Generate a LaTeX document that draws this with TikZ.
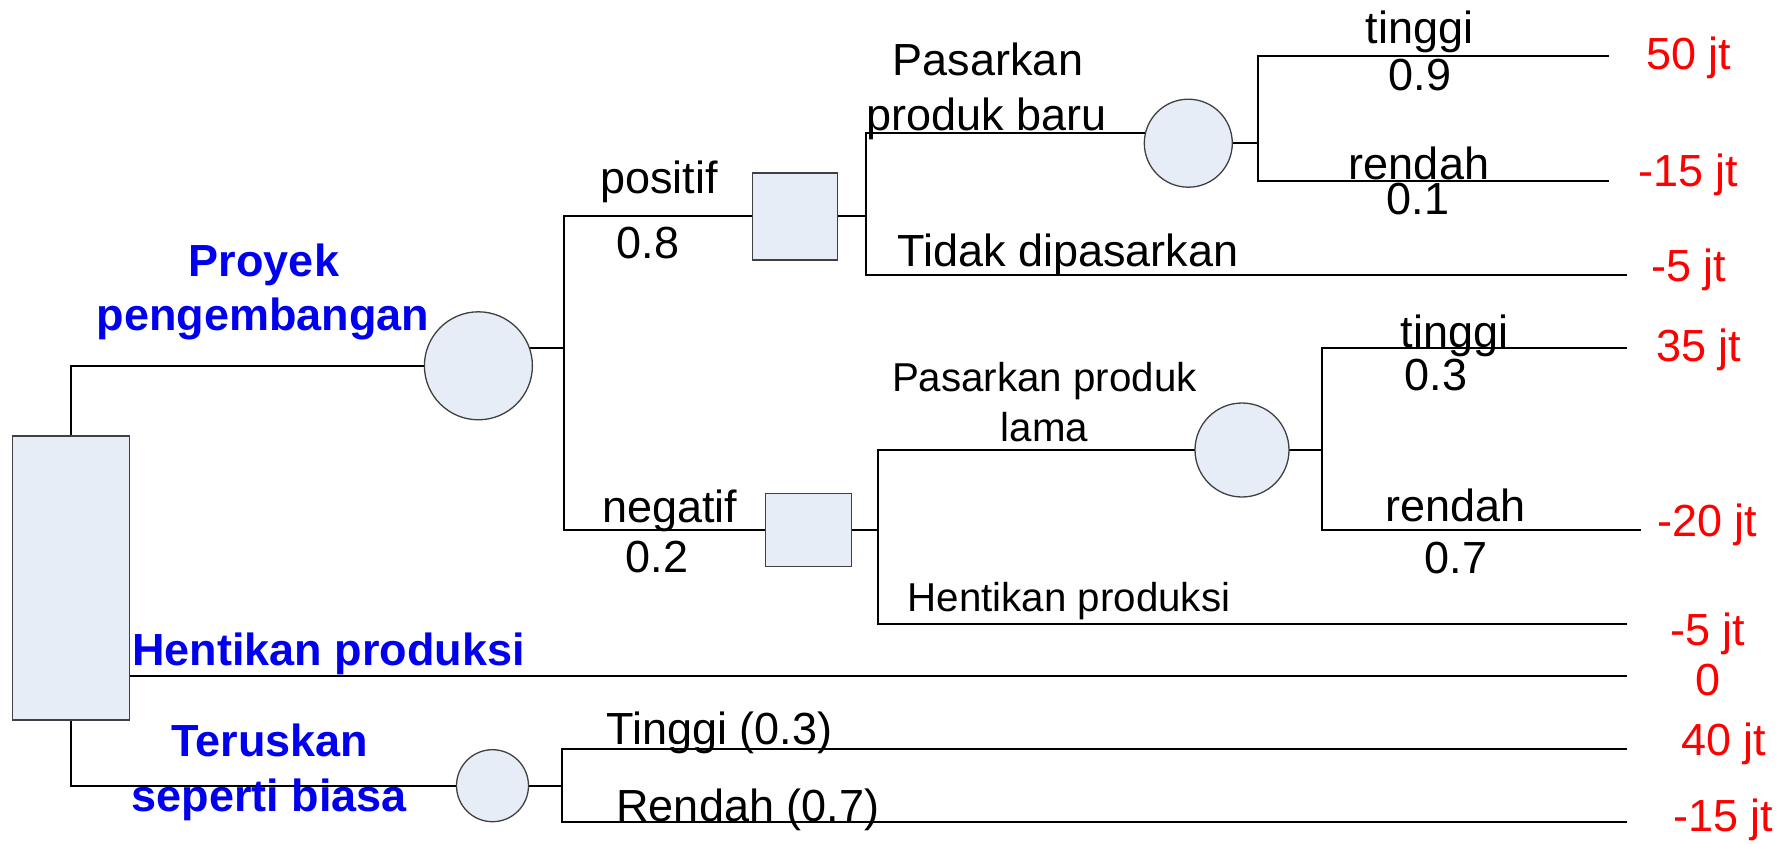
\documentclass[tikz,border=0pt]{standalone}
\usepackage{fontspec}
\setmainfont{Liberation Sans}
\usetikzlibrary{backgrounds}
\definecolor{nodefill}{RGB}{230,237,247}
\definecolor{nodeline}{RGB}{64,64,64}
\definecolor{payoff}{RGB}{255,0,0}
\definecolor{choice}{RGB}{0,0,238}
\begin{document}
\begin{tikzpicture}[x=1pt,y=-1pt,
  every node/.style={inner sep=0pt, outer sep=0pt},
  decision/.style={rectangle, draw=nodeline, fill=nodefill, line width=1.3pt},
  chance/.style={circle, draw=nodeline, fill=nodefill, line width=1.3pt},
  branch/.style={line width=2pt, black},
  lbl/.style={anchor=base, font=\fontsize{45}{54}\selectfont},
  smalllbl/.style={anchor=base, font=\fontsize{40.3}{48}\selectfont},
  act/.style={anchor=base, text=choice, font=\fontsize{45}{54}\selectfont\bfseries},
  val/.style={anchor=base west, text=payoff, font=\fontsize{45}{54}\selectfont}]

\useasboundingbox (0,0) rectangle (1790,843);

% decision and chance nodes
\node[decision, minimum width=117pt, minimum height=284pt] (root) at (70.75,578) {};
\node[chance, minimum size=108pt] (c1) at (478.4,365.8) {};
\node[decision, minimum width=85pt, minimum height=87pt] (d1) at (794.8,216.4) {};
\node[decision, minimum width=86.4pt, minimum height=73pt] (d2) at (808.5,530.2) {};
\node[chance, minimum size=88pt] (c2) at (1188.3,143.2) {};
\node[chance, minimum size=94pt] (c3) at (1242,450) {};
\node[chance, minimum size=72pt] (c4) at (492.5,785.7) {};

% branch points and free ends of the branches
\coordinate (j1) at (564.4,347.7);
\coordinate (j2) at (865.7,132.7);
\coordinate (j2m) at (865.7,216.4);
\coordinate (j3) at (1258.3,143.2);
\coordinate (j4) at (878.3,530.2);
\coordinate (j5) at (1322.3,450);
\coordinate (j6) at (562.3,785.7);
\coordinate (e1) at (1609,55.7);
\coordinate (e2) at (1609,180.7);
\coordinate (e3) at (1627,274.7);
\coordinate (e4) at (1627,347.7);
\coordinate (e5) at (1641,530.2);
\coordinate (e6) at (1627,624.3);
\coordinate (e7) at (1627,676.3);
\coordinate (e8) at (1627,749.3);
\coordinate (e9) at (1627,822);

% branches, drawn behind the nodes
\begin{scope}[on background layer]
  \draw[branch] (root.north) |- (c1.west);
  \draw[branch] (root.center |- e7) -- (e7);
  \draw[branch] (root.south) |- (c4.west);

  \draw[branch] (c1.center |- j1) -- (j1);
  \draw[branch] (d1.west) -| (j1) |- (d2.west);

  \draw[branch] (d1.east) -- (j2m);
  \draw[branch] (c2.center |- j2) -- (j2) |- (e3);
  \draw[branch] (c2.east) -- (j3);
  \draw[branch] (e1) -| (j3) |- (e2);

  \draw[branch] (d2.east) -- (j4);
  \draw[branch] (c3.west) -| (j4) |- (e6);
  \draw[branch] (c3.east) -- (j5);
  \draw[branch] (e4) -| (j5) |- (e5);

  \draw[branch] (c4.east) -- (j6);
  \draw[branch] (e8) -| (j6) |- (e9);
\end{scope}

% first-stage alternatives
\node[act] (aProyek) at (264,276.7) {Proyek};
\node[act] (aPengembangan) at (263,330) {pengembangan};
\node[act] (aHentikan) at (328.4,665.3) {Hentikan produksi};
\node[act] (aTeruskan) at (269.7,756) {Teruskan};
\node[act] (aBiasa) at (269.3,811.7) {seperti biasa};

% branch labels
\node[lbl] (lPositif) at (659,193.3) {positif};
\node[lbl] (pPositif) at (648,258.3) {0.8};
\node[lbl] (lNegatif) at (669.7,522) {negatif};
\node[lbl] (pNegatif) at (657,572.7) {0.2};

\node[lbl] (lBaru1) at (988,75) {Pasarkan};
\node[lbl] (lBaru2) at (986.7,130) {produk baru};
\node[lbl] (lTidak) at (1067.7,266.7) {Tidak dipasarkan};
\node[lbl] (lTinggiA) at (1419.5,43.3) {tinggi};
\node[lbl] (pTinggiA) at (1420,90.7) {0.9};
\node[lbl] (lRendahA) at (1419,179.3) {rendah};
\node[lbl] (pRendahA) at (1418,214.3) {0.1};

\node[smalllbl] (lLama1) at (1044.4,391.7) {Pasarkan produk};
\node[smalllbl] (lLama2) at (1044.5,441.7) {lama};
\node[smalllbl] (lStop) at (1069,611) {Hentikan produksi};
\node[lbl] (lTinggiB) at (1454.7,347.7) {tinggi};
\node[lbl] (pTinggiB) at (1436,390) {0.3};
\node[lbl] (lRendahB) at (1455.7,521) {rendah};
\node[lbl] (pRendahB) at (1455.8,573.3) {0.7};

\node[lbl] (lTinggiC) at (719.5,744.3) {Tinggi (0.3)};
\node[lbl] (lRendahC) at (747.8,821) {Rendah (0.7)};

% payoffs
\node[val] (v1) at (1646,69.3) {50 jt};
\node[val] (v2) at (1638,186.7) {-15 jt};
\node[val] (v3) at (1651,281) {-5 jt};
\node[val] (v4) at (1656,361.7) {35 jt};
\node[val] (v5) at (1657,536.7) {-20 jt};
\node[val] (v6) at (1670,645) {-5 jt};
\node[val] (v7) at (1695,695) {0};
\node[val] (v8) at (1681,755) {40 jt};
\node[val] (v9) at (1673,831) {-15 jt};
\end{tikzpicture}
\end{document}
